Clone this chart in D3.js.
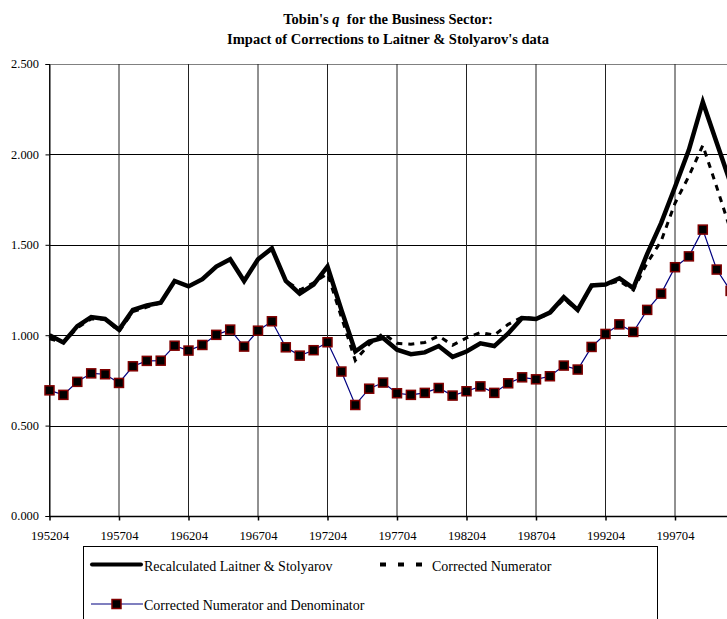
<!DOCTYPE html>
<html>
<head>
<meta charset="utf-8">
<script src="https://cdn.jsdelivr.net/npm/d3@7"></script>
<style>
  body { margin: 0; background: white; }
  svg { display: block; }
</style>
</head>
<body>
<svg id="chart"></svg>
<script>
var WIDTH = 727,
    HEIGHT = 619,
    FONT = "'Liberation Serif', 'Times New Roman', serif",
    LINE_COLOR = "black",
    BLUE = "#000080",
    MARKER_EDGE = "#800000";

// observation labels (yyyymm)
var periods = ["195204","195304","195404","195504","195604","195704","195804","195904","196004","196104",
               "196204","196304","196404","196504","196604","196704","196804","196904","197004","197104",
               "197204","197304","197404","197504","197604","197704","197804","197904","198004","198104",
               "198204","198304","198404","198504","198604","198704","198804","198904","199004","199104",
               "199204","199304","199404","199504","199604","199704","199804","199904","200004","200104"];

var tickLabels = ["195204","195704","196204","196704","197204","197704","198204","198704","199204","199704"];
var yTicks = [0, 0.5, 1.0, 1.5, 2.0, 2.5];

var recalculated = [1.00,0.96,1.05,1.10,1.09,1.03,1.14,1.165,1.18,1.30,
                    1.27,1.31,1.38,1.42,1.30,1.42,1.48,1.30,1.23,1.28,
                    1.38,1.14,0.91,0.965,0.985,0.92,0.895,0.905,0.94,0.88,
                    0.91,0.955,0.94,1.01,1.095,1.09,1.125,1.21,1.14,1.275,
                    1.28,1.315,1.26,1.45,1.62,1.82,2.025,2.29,2.065,1.84];

var correctedNum = [0.98,0.96,1.04,1.09,1.09,1.02,1.13,1.155,1.18,1.30,
                    1.27,1.31,1.38,1.42,1.30,1.42,1.48,1.30,1.25,1.29,
                    1.34,1.10,0.86,0.95,1.01,0.955,0.95,0.96,0.995,0.945,
                    0.985,1.015,1.00,1.06,1.10,1.09,1.12,1.20,1.14,1.27,
                    1.28,1.30,1.25,1.40,1.52,1.73,1.88,2.05,1.82,1.58];

var correctedBoth = [0.695,0.670,0.742,0.789,0.784,0.736,0.828,0.858,0.859,0.942,
                     0.915,0.946,1.002,1.031,0.937,1.025,1.077,0.933,0.887,0.917,
                     0.961,0.799,0.614,0.704,0.738,0.679,0.670,0.681,0.708,0.666,
                     0.690,0.717,0.681,0.734,0.767,0.756,0.773,0.832,0.810,0.935,
                     1.007,1.060,1.018,1.140,1.230,1.376,1.436,1.584,1.363,1.245];

var x = d3.scalePoint()
    .domain(periods)
    .range([49.5, 730.6]);
var y = d3.scaleLinear()
    .domain([0, 2.5])
    .range([516, 64]);

var svg = d3.select("#chart")
    .attr("width", WIDTH)
    .attr("height", HEIGHT)
    .style("background", "white");

// title
var title = svg.append("text")
    .attr("x", 388)
    .attr("y", 24)
    .style("font-family", FONT)
    .style("font-size", "14.5px")
    .style("font-weight", "bold")
    .style("text-anchor", "middle");
title.append("tspan").text("Tobin's ");
title.append("tspan").style("font-style", "italic").text("q");
title.append("tspan").attr("xml:space", "preserve").text("  for the Business Sector:");
svg.append("text")
    .attr("x", 388)
    .attr("y", 44)
    .style("font-family", FONT)
    .style("font-size", "14.5px")
    .style("font-weight", "bold")
    .style("text-anchor", "middle")
    .text("Impact of Corrections to Laitner & Stolyarov's data");

// grid
var grid = svg.append("g").attr("id", "grid");
grid.selectAll("line.h")
    .data(yTicks)
  .enter().append("line")
    .attr("class", "h")
    .attr("x1", 49.5)
    .attr("x2", WIDTH)
    .attr("y1", function(d) { return Math.round(y(d)) + 0.5; })
    .attr("y2", function(d) { return Math.round(y(d)) + 0.5; })
    .style("stroke", function(d) { return d === 2.5 ? "#808080" : LINE_COLOR; })
    .style("stroke-width", 1);
grid.selectAll("line.v")
    .data(tickLabels)
  .enter().append("line")
    .attr("class", "v")
    .attr("x1", function(d) { return x(d); })
    .attr("x2", function(d) { return x(d); })
    .attr("y1", y(2.5))
    .attr("y2", y(0))
    .style("stroke", "#222")
    .style("stroke-width", 1);

// axes
var yAxis = d3.axisLeft(y)
    .tickValues(yTicks)
    .tickFormat(d3.format(".3f"))
    .tickSize(4)
    .tickPadding(6.5);
svg.append("g")
    .attr("transform", "translate(49.5,0)")
    .attr("font-family", FONT)
    .call(yAxis)
    .call(function(g) {
        g.selectAll("text").style("font-family", FONT).style("font-size", "12.4px").style("fill", "black");
        g.selectAll("line,path").style("stroke", "black");
    });

var xAxis = d3.axisBottom(x)
    .tickValues(tickLabels)
    .tickSize(4)
    .tickPadding(10)
    .tickSizeOuter(0);
svg.append("g")
    .attr("transform", "translate(0," + (Math.round(y(0)) + 0.5) + ")")
    .attr("font-family", FONT)
    .call(xAxis)
    .call(function(g) {
        g.select(".domain").attr("d", "M49.5,0H" + WIDTH);
        g.selectAll("text").style("font-family", FONT).style("font-size", "12.7px").style("fill", "black");
        g.selectAll("line,path").style("stroke", "black").style("stroke-width", 1.5);
    });

// series
var line = d3.line()
    .x(function(d, i) { return x(periods[i]); })
    .y(function(d) { return y(d); });

svg.append("path")
    .datum(correctedNum)
    .attr("d", line)
    .style("fill", "none")
    .style("stroke", LINE_COLOR)
    .style("stroke-width", 3)
    .style("stroke-dasharray", "6,6");

svg.append("path")
    .datum(recalculated)
    .attr("d", line)
    .style("fill", "none")
    .style("stroke", LINE_COLOR)
    .style("stroke-width", 4.5)
    .style("stroke-linejoin", "miter");

svg.append("path")
    .datum(correctedBoth)
    .attr("d", line)
    .style("fill", "none")
    .style("stroke", BLUE)
    .style("stroke-width", 1.2);

svg.selectAll("rect.marker")
    .data(correctedBoth)
  .enter().append("rect")
    .attr("class", "marker")
    .attr("x", function(d, i) { return x(periods[i]) - 4.5; })
    .attr("y", function(d) { return y(d) - 4.5; })
    .attr("width", 9)
    .attr("height", 9)
    .style("fill", "black")
    .style("stroke", MARKER_EDGE)
    .style("stroke-width", 1.5);

// legend
var legend = svg.append("g").attr("id", "legend");
legend.append("rect")
    .attr("x", 83.5)
    .attr("y", 546.5)
    .attr("width", 574)
    .attr("height", 90)
    .style("fill", "white")
    .style("stroke", "black")
    .style("stroke-width", 1);

legend.append("line")
    .attr("x1", 92).attr("x2", 141)
    .attr("y1", 564.5).attr("y2", 564.5)
    .style("stroke", LINE_COLOR)
    .style("stroke-width", 4)
    .style("stroke-linecap", "round");
legend.append("text")
    .attr("x", 144).attr("y", 570.5)
    .style("font-family", FONT).style("font-size", "14px")
    .text("Recalculated Laitner & Stolyarov");

legend.append("line")
    .attr("x1", 380).attr("x2", 424)
    .attr("y1", 564.5).attr("y2", 564.5)
    .style("stroke", LINE_COLOR)
    .style("stroke-width", 4)
    .style("stroke-dasharray", "6,12");
legend.append("text")
    .attr("x", 432).attr("y", 570.5)
    .style("font-family", FONT).style("font-size", "14px")
    .text("Corrected Numerator");

legend.append("line")
    .attr("x1", 91).attr("x2", 143)
    .attr("y1", 604).attr("y2", 604)
    .style("stroke", BLUE)
    .style("stroke-width", 1.2);
legend.append("rect")
    .attr("x", 112).attr("y", 599.5)
    .attr("width", 9).attr("height", 9)
    .style("fill", "black")
    .style("stroke", MARKER_EDGE)
    .style("stroke-width", 1.5);
legend.append("text")
    .attr("x", 144).attr("y", 610)
    .style("font-family", FONT).style("font-size", "14px")
    .text("Corrected Numerator and Denominator");
</script>
</body>
</html>
